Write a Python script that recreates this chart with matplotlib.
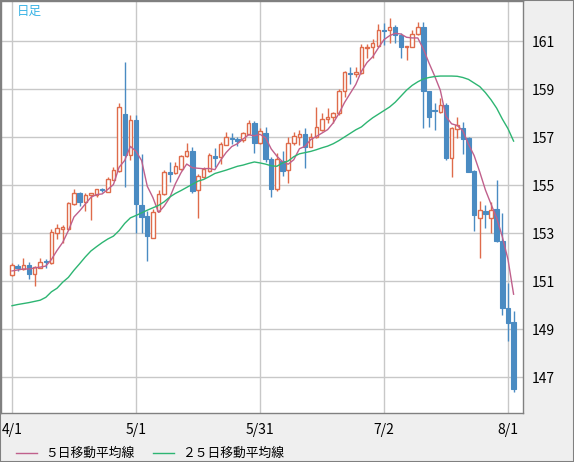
import matplotlib.pyplot as plt
import numpy as np
import pandas as pd
from matplotlib.lines import Line2D
from matplotlib.patches import Rectangle

plt.rcParams['font.family'] = ['Noto Sans CJK JP', 'DejaVu Sans']

# daily OHLC, 2024/4/1 - 2024/8/2
opens = [151.24, 151.61, 151.51, 151.65, 151.29, 151.56, 151.85, 151.74, 153.01, 153.18,
         153.15, 154.19, 154.68, 154.30, 154.58, 154.58, 154.83, 154.72, 155.21, 155.58,
         157.94, 156.25, 157.71, 154.17, 153.69, 152.81, 153.92, 154.61, 155.54, 155.49,
         155.67, 156.19, 156.42, 154.78, 155.32, 155.57, 156.21, 156.15, 156.68, 156.97,
         156.90, 156.86, 157.13, 157.57, 156.74, 157.18, 156.07, 154.82, 156.01, 155.61,
         156.74, 157.01, 157.12, 156.60, 157.00, 157.29, 157.74, 157.82, 157.99, 158.92,
         159.68, 159.63, 159.65, 160.72, 160.74, 160.79, 161.44, 161.44, 161.57, 161.25,
         160.74, 160.76, 161.28, 161.58, 158.92, 158.11, 158.06, 158.33, 156.14, 157.32,
         157.36, 156.94, 155.58, 153.64, 153.92, 153.64, 153.99, 152.68, 149.86, 149.28]
highs = [151.74, 151.69, 151.94, 151.78, 151.63, 151.94, 151.93, 153.18, 153.36, 153.33,
         154.28, 154.83, 154.72, 154.65, 154.66, 154.85, 154.89, 155.33, 155.75, 158.43,
         160.14, 157.92, 157.92, 156.29, 153.90, 154.00, 154.78, 155.62, 155.94, 155.94,
         156.25, 156.74, 156.60, 155.45, 155.76, 156.32, 156.53, 156.81, 157.21, 157.17,
         157.00, 157.21, 157.71, 157.67, 157.36, 157.40, 156.15, 156.32, 156.40, 156.99,
         157.19, 157.29, 157.39, 157.15, 158.24, 157.99, 158.19, 158.06, 158.99, 159.75,
         159.90, 159.90, 160.86, 160.86, 161.10, 161.71, 161.76, 161.96, 161.67, 161.35,
         160.80, 161.46, 161.81, 161.78, 158.92, 158.40, 158.64, 158.40, 157.43, 157.85,
         157.61, 157.01, 155.62, 154.33, 154.17, 154.31, 155.21, 153.82, 150.90, 149.76]
lows = [151.21, 151.43, 151.46, 151.08, 150.80, 151.53, 151.56, 151.69, 152.74, 152.60,
        153.12, 154.18, 154.14, 153.93, 153.54, 154.52, 154.69, 154.72, 155.19, 155.55,
        154.93, 156.04, 153.01, 153.01, 151.85, 152.80, 153.89, 154.58, 155.11, 155.46,
        155.63, 156.17, 154.65, 153.61, 155.29, 155.54, 155.76, 155.88, 156.67, 156.71,
        156.63, 156.81, 157.11, 156.35, 156.69, 155.97, 154.51, 154.76, 155.39, 155.10,
        156.67, 156.67, 155.69, 156.57, 156.97, 157.24, 157.57, 157.57, 157.92, 158.65,
        159.21, 159.51, 159.63, 160.28, 160.28, 160.76, 160.82, 160.90, 160.90, 160.30,
        160.21, 160.74, 161.25, 157.39, 157.43, 157.29, 158.00, 156.04, 155.35, 156.94,
        156.28, 155.53, 153.08, 151.94, 153.19, 153.01, 152.64, 149.58, 148.50, 146.39]
closes = [151.65, 151.56, 151.65, 151.30, 151.57, 151.81, 151.78, 153.03, 153.19, 153.24,
          154.24, 154.65, 154.29, 154.60, 154.65, 154.82, 154.78, 155.24, 155.61, 158.24,
          156.25, 157.71, 154.22, 153.68, 152.89, 153.89, 154.61, 155.53, 155.47, 155.78,
          156.19, 156.40, 154.76, 155.36, 155.68, 156.25, 156.14, 156.71, 156.99, 156.93,
          156.83, 157.15, 157.57, 156.76, 157.26, 156.10, 154.82, 156.07, 155.60, 156.74,
          157.04, 157.11, 156.57, 157.00, 157.40, 157.74, 157.82, 157.99, 158.92, 159.71,
          159.63, 159.69, 160.74, 160.76, 160.90, 161.46, 161.42, 161.57, 161.25, 160.76,
          160.78, 161.28, 161.57, 158.92, 157.85, 158.07, 158.33, 156.11, 157.39, 157.50,
          156.93, 155.56, 153.75, 153.96, 153.78, 153.96, 152.68, 149.86, 149.26, 146.49]
# last closes of March, needed for the first 5-day averages
prev_closes = [151.36, 151.45, 151.30, 151.34]
ma25 = [149.97, 150.02, 150.06, 150.10, 150.15, 150.20, 150.32, 150.55, 150.70, 150.95,
        151.15, 151.45, 151.72, 152.00, 152.25, 152.43, 152.60, 152.75, 152.87, 153.10,
        153.40, 153.63, 153.73, 153.84, 153.95, 154.05, 154.15, 154.30, 154.50, 154.65,
        154.77, 154.90, 155.03, 155.16, 155.23, 155.35, 155.48, 155.55, 155.62, 155.70,
        155.78, 155.83, 155.90, 155.96, 155.92, 155.87, 155.80, 155.78, 155.92, 156.00,
        156.18, 156.30, 156.35, 156.40, 156.47, 156.55, 156.62, 156.72, 156.85, 157.00,
        157.15, 157.30, 157.42, 157.62, 157.80, 157.95, 158.10, 158.25, 158.45, 158.70,
        158.95, 159.15, 159.30, 159.42, 159.48, 159.52, 159.54, 159.54, 159.54, 159.53,
        159.48, 159.40, 159.25, 159.10, 158.85, 158.55, 158.20, 157.75, 157.35, 156.83]
tick_labels = ['4/1', '5/1', '5/31', '7/2', '8/1']
y_ticks = [147, 149, 151, 153, 155, 157, 159, 161]

dates = pd.bdate_range('2024-04-01', '2024-08-02')
x = np.arange(len(dates))
o = np.array(opens); h = np.array(highs); l = np.array(lows); c = np.array(closes)
ma5 = pd.Series(prev_closes + closes).rolling(5).mean().to_numpy()[len(prev_closes):]
day_lbl = [f'{d.month}/{d.day}' for d in dates]
tick_pos = [day_lbl.index(t) for t in tick_labels]

up_col = '#df6b4b'
dn_col = '#4a8bc2'
up = c >= o

fig = plt.figure(figsize=(5.74, 4.62), dpi=100, facecolor='#efefef')
ax = fig.add_axes([1/574, 49/462, 522/574, 412/462])
ax.set_facecolor('white')

ax.vlines(x[up], l[up], h[up], color=up_col, lw=1, zorder=2)
ax.vlines(x[~up], l[~up], h[~up], color=dn_col, lw=1, zorder=2)
ax.bar(x[up], c[up] - o[up], bottom=o[up], width=0.62, facecolor='white',
       edgecolor=up_col, linewidth=1, zorder=3)
ax.bar(x[~up], c[~up] - o[~up], bottom=o[~up], width=0.78, facecolor=dn_col,
       edgecolor=dn_col, linewidth=0.8, zorder=3)

ax.plot(x, ma5, color='#c0608c', lw=1, zorder=4)
ax.plot(x, ma25, color='#2db572', lw=1, zorder=4)

ax.set_xlim(-1.95, 90.67)
ax.set_ylim(145.5, 162.667)
ax.set_xticks(tick_pos)
ax.set_xticklabels(tick_labels)
ax.set_yticks(y_ticks)
ax.yaxis.tick_right()
ax.tick_params(length=0, labelsize=10, colors='black')
ax.tick_params(axis='x', pad=7)
ax.tick_params(axis='y', pad=6)
ax.grid(True, color='#c8c8c8', lw=1, zorder=0)
ax.set_axisbelow(True)
for s in ax.spines.values():
    s.set_color('#808080')
    s.set_linewidth(1)

fig.text(17/574, 1 - 11/462, '日足', color='#3cb4e6', fontsize=9, va='center', ha='left')

ly = 9/462
fig.add_artist(Line2D([16/574, 37/574], [ly, ly], color='#c0608c', lw=1))
fig.text(45/574, ly, '５日移動平均線', fontsize=9.2, va='center', ha='left')
fig.add_artist(Line2D([153/574, 174/574], [ly, ly], color='#2db572', lw=1))
fig.text(182/574, ly, '２５日移動平均線', fontsize=9.2, va='center', ha='left')
fig.add_artist(Rectangle((0, 0), 1, 1, transform=fig.transFigure, fill=False,
                         edgecolor='#808080', lw=1.5))

fig.savefig('out.png', dpi=100, facecolor=fig.get_facecolor())
